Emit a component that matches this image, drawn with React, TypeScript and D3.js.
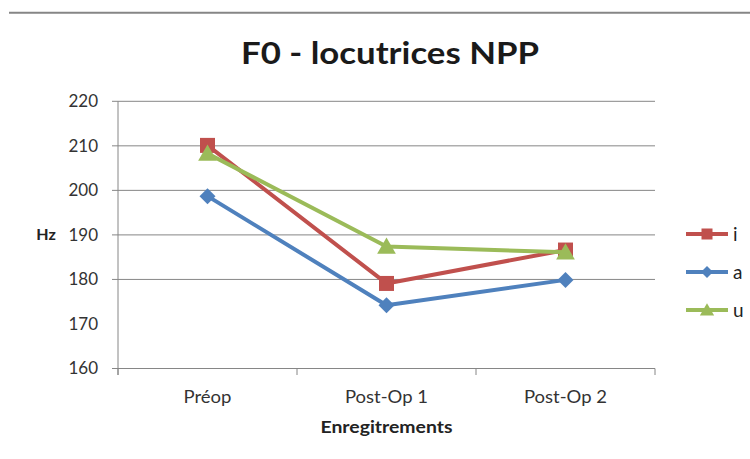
import React from "react";
import * as d3 from "d3";

const categories = ["Préop", "Post-Op 1", "Post-Op 2"];
const seriesNames = ["i", "a", "u"];
const valuesI = [210.1, 179.1, 186.6];
const valuesA = [198.7, 174.2, 179.9];
const valuesU = [208.3, 187.4, 186.1];
const yTicks = [160, 170, 180, 190, 200, 210, 220];
const gridTicks = [180, 190, 200, 210, 220];
const colors = ["#C0504D", "#4F81BD", "#9BBB59"];
const markers = ["square", "diamond", "triangle"];

const W = 750;
const H = 459;
const left = 118;
const right = 655;
const top = 101.3;
const bottom = 368.5;
const FONT = "Lato, 'Open Sans', sans-serif";

function Marker({ type, x, y, s, color }: { type: string; x: number; y: number; s: number; color: string }) {
  if (type === "square") {
    return <rect x={x - s / 2} y={y - s / 2} width={s} height={s} fill={color} />;
  }
  if (type === "diamond") {
    const r = s / 2;
    return <path d={`M${x},${y - r}L${x + r},${y}L${x},${y + r}L${x - r},${y}Z`} fill={color} />;
  }
  const r = s / 2;
  return <path d={`M${x},${y - r * 1.05}L${x + r * 1.1},${y + r * 0.85}L${x - r * 1.1},${y + r * 0.85}Z`} fill={color} />;
}

export default function App() {
  const x = d3.scaleBand<string>().domain(categories).range([left, right]);
  const y = d3.scaleLinear().domain([160, 220]).range([bottom, top]);
  const data = [valuesI, valuesA, valuesU];
  const line = d3
    .line<number>()
    .x((_, i) => (x(categories[i]) as number) + x.bandwidth() / 2)
    .y((d) => y(d));
  const xTickPos = [left, ...categories.map((c) => (x(c) as number) + x.bandwidth())];
  const drawOrder = [1, 0, 2];
  const markerSize = [15, 16, 17];
  const legendRows = [234, 272, 310];
  const catWidths = [48, 83, 83];

  return (
    <svg width={W} height={H} style={{ position: "absolute", left: 0, top: 0, background: "#fff" }}>
      <rect x={0} y={0} width={W} height={H} fill="#fff" />
      <line x1={9} x2={W} y1={12.7} y2={12.7} stroke="#868686" strokeWidth={2} />
      <text x={241} y={64} textLength={298} lengthAdjust="spacingAndGlyphs" fontFamily={FONT} fontWeight="bold" fontSize={30} fill="#1a1a1a">
        F0 - locutrices NPP
      </text>
      {gridTicks.map((t) => (
        <line key={t} x1={112} x2={right} y1={y(t)} y2={y(t)} stroke="#868686" strokeWidth={1} />
      ))}
      <line x1={112} x2={right} y1={bottom} y2={bottom} stroke="#868686" strokeWidth={1} />
      <line x1={left} x2={left} y1={top} y2={375} stroke="#868686" strokeWidth={1} />
      {xTickPos.map((p, i) => (
        <line key={i} x1={p} x2={p} y1={bottom} y2={375} stroke="#868686" strokeWidth={1} />
      ))}
      {yTicks.map((t) => (
        <text key={t} x={98} y={y(t)} dy="0.35em" textAnchor="end" fontFamily={FONT} fontSize={17} fill="#333">
          {t}
        </text>
      ))}
      <text x={46} y={234} dy="0.35em" textAnchor="middle" fontFamily={FONT} fontWeight="bold" fontSize={16} fill="#222">
        Hz
      </text>
      {categories.map((c, i) => (
        <text key={c} x={(x(c) as number) + x.bandwidth() / 2 - catWidths[i] / 2} y={397.5} dy="0.35em" textLength={catWidths[i]} lengthAdjust="spacingAndGlyphs" fontFamily={FONT} fontSize={17} fill="#333">
          {c}
        </text>
      ))}
      <text x={386.5 - 66} y={427} dy="0.35em" textLength={132} lengthAdjust="spacingAndGlyphs" fontFamily={FONT} fontWeight="bold" fontSize={17} fill="#222">
        Enregitrements
      </text>
      {drawOrder.map((si) => (
        <g key={si}>
          <path d={line(data[si]) as string} fill="none" stroke={colors[si]} strokeWidth={4} strokeLinejoin="round" />
          {data[si].map((v, i) => (
            <Marker key={i} type={markers[si]} x={(x(categories[i]) as number) + x.bandwidth() / 2} y={y(v)} s={markerSize[si]} color={colors[si]} />
          ))}
        </g>
      ))}
      {seriesNames.map((n, i) => (
        <g key={n}>
          <line x1={686} x2={728} y1={legendRows[i]} y2={legendRows[i]} stroke={colors[i]} strokeWidth={4} />
          <Marker type={markers[i]} x={707} y={legendRows[i]} s={[11, 12, 13][i]} color={colors[i]} />
          <text x={733} y={legendRows[i]} dy="0.35em" fontFamily={FONT} fontSize={19} fill="#222">
            {n}
          </text>
        </g>
      ))}
    </svg>
  );
}
